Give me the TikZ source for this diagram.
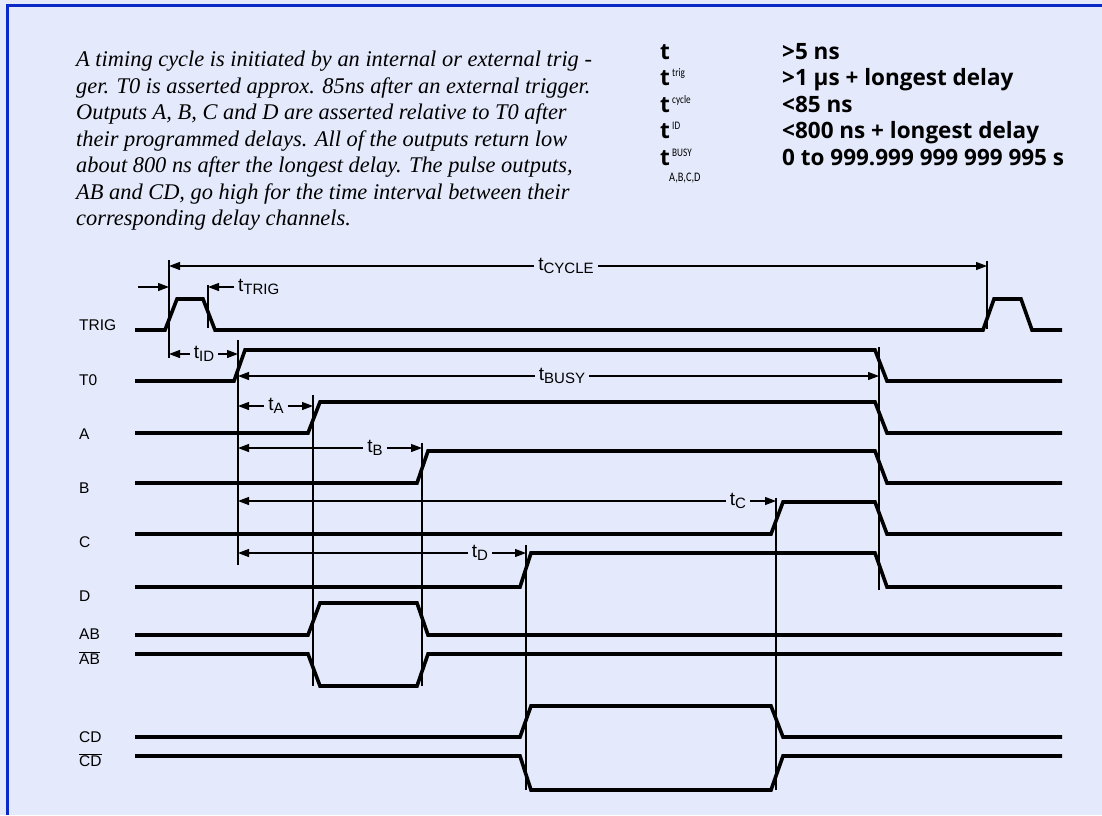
\documentclass[tikz,border=0pt]{standalone}
\usepackage{fontspec}
\setmainfont{Liberation Sans}
\newfontfamily\notefont{Liberation Serif}
\newfontfamily\tabfont{Open Sans}
\newfontfamily\supfont[FakeStretch=0.8]{Carlito}
\usetikzlibrary{
    arrows.meta,
    calc,
    positioning
}
\definecolor{panelbg}{HTML}{E4EAFB}
\definecolor{panelrule}{HTML}{0A2AC8}
\tikzset{
    sig/.style={line width=3.6pt, line join=miter},
    guide/.style={line width=1.2pt},
    dim/.style={line width=1.2pt, -{Triangle[length=11pt,width=8pt]}},
    siglab/.style={anchor=west, inner sep=0pt, font=\fontsize{15.5}{15.5}\selectfont},
    dimlab/.style={inner xsep=4pt, inner ysep=0pt},
    tabval/.style={anchor=base west, inner sep=0pt, font=\tabfont\bfseries\fontsize{22.5}{22.5}\selectfont},
    tabsup/.style={anchor=base west, inner sep=0pt, font=\supfont\fontsize{11.5}{11.5}\selectfont}
}
\newcommand{\tsub}[1]{{\fontsize{19}{19}\selectfont t}\raisebox{-3pt}{\fontsize{15}{15}\selectfont #1}}

\begin{document}
\begin{tikzpicture}[x=1pt,y=-1pt]
    \fill[panelbg] (0,0) rectangle (1102,815);
    \useasboundingbox (0,0) rectangle (1102,815);
    \draw[panelrule, line width=3.5pt] (7.5,815) -- (7.5,5.5) -- (1102,5.5);

    % description
    \node[anchor=north west, inner sep=0pt, align=left,
          font=\notefont\itshape\fontsize{22.4}{26.5}\selectfont] (note) at (76,51)
        {A timing cycle is initiated by an internal or external trig -\\
         ger. T0 is asserted approx. 85ns after an external trigger.\\
         Outputs A, B, C and D are asserted relative to T0 after\\
         their programmed delays. All of the outputs return low\\
         about 800 ns after the longest delay. The pulse outputs,\\
         AB and CD, go high for the time interval between their\\
         corresponding delay channels.};

    % limits table
    \node[tabval] (t1) at (660,59) {t};
    \node[tabval] (t2) at (660,85.5) {t};
    \node[tabval] (t3) at (660,112) {t};
    \node[tabval] (t4) at (660,138.5) {t};
    \node[tabval] (t5) at (660,165) {t};
    \node[tabsup] (s2) at (672,76.5) {trig};
    \node[tabsup] (s3) at (672,103) {cycle};
    \node[tabsup] (s4) at (672,129.5) {ID};
    \node[tabsup] (s5) at (672,156) {BUSY};
    \node[tabsup, font=\supfont\fontsize{13}{13}\selectfont] (s6) at (669,181) {A,B,C,D};
    \node[tabval] (v1) at (782,59) {>5 ns};
    \node[tabval] (v2) at (782,85.5) {>1 µs + longest delay};
    \node[tabval] (v3) at (782,112) {<85 ns};
    \node[tabval] (v4) at (782,138.5) {<800 ns + longest delay};
    \node[tabval] (v5) at (782,165) {0 to 999.999 999 999 995 s};

    % signal names
    \node[siglab] (ntrig) at (79,325) {TRIG};
    \node[siglab] (nt0) at (79,380) {T0};
    \node[siglab] (na) at (79,434) {A};
    \node[siglab] (nb) at (79,488) {B};
    \node[siglab] (nc) at (79,542) {C};
    \node[siglab] (nd) at (79,596) {D};
    \node[siglab] (nab) at (79,634) {AB};
    \node[siglab] (nabn) at (79,658) {$\overline{\mbox{AB}}$};
    \node[siglab] (ncd) at (79,737) {CD};
    \node[siglab] (ncdn) at (79,760) {$\overline{\mbox{CD}}$};

    % waveforms
    \draw[sig] (135,330) -- (165,330) -- (177,299) -- (203,299) -- (215,330) -- (983,330)
        -- (994,299) -- (1021,299) -- (1032,330) -- (1062,330);
    \draw[sig] (135,381) -- (234,381) -- (245,350) -- (875,350) -- (887,381) -- (1062,381);
    \draw[sig] (135,433) -- (308,433) -- (320,402) -- (875,402) -- (887,433) -- (1062,433);
    \draw[sig] (135,483) -- (417,483) -- (428,451) -- (875,451) -- (887,483) -- (1062,483);
    \draw[sig] (135,534) -- (771,534) -- (783,502) -- (875,502) -- (887,534) -- (1062,534);
    \draw[sig] (135,587) -- (520,587) -- (531,553) -- (875,553) -- (887,587) -- (1062,587);
    \draw[sig] (135,635) -- (308,635) -- (320,603) -- (417,603) -- (428,635) -- (1062,635);
    \draw[sig] (135,654) -- (308,654) -- (320,686) -- (417,686) -- (428,654) -- (1062,654);
    \draw[sig] (135,737) -- (520,737) -- (531,706) -- (771,706) -- (783,737) -- (1062,737);
    \draw[sig] (135,756) -- (520,756) -- (531,790) -- (771,790) -- (783,756) -- (1062,756);

    % guide lines
    \coordinate (g1t) at (169,260); \coordinate (g1b) at (169,358);
    \coordinate (g2t) at (208,285); \coordinate (g2b) at (208,328);
    \coordinate (g3t) at (238,340); \coordinate (g3b) at (238,565);
    \coordinate (g4t) at (313,395); \coordinate (g4b) at (313,686);
    \coordinate (g5t) at (422,443); \coordinate (g5b) at (422,686);
    \coordinate (g6t) at (526,545); \coordinate (g6b) at (526,790);
    \coordinate (g7t) at (776,498); \coordinate (g7b) at (776,790);
    \coordinate (g8t) at (879,347); \coordinate (g8b) at (879,590);
    \coordinate (g9t) at (987,261); \coordinate (g9b) at (987,329);
    \foreach \g in {1,...,9}
        \draw[guide] (g\g t) -- (g\g b);

    % timing intervals
    \node[dimlab] (lcyc) at (566,266) {\tsub{CYCLE}};
    \draw[dim] (lcyc.west) -- (lcyc.west -| g1t);
    \draw[dim] (lcyc.east) -- (lcyc.east -| g9t);
    \coordinate (trigin) at (138,287);
    \draw[dim] (trigin) -- (trigin -| g1t);
    \node[dimlab, anchor=west] (ltrig) at (234,287) {\tsub{TRIG}};
    \draw[dim] (ltrig.west) -- (ltrig.west -| g2t);
    \node[dimlab] (lid) at (204,354) {\tsub{ID}};
    \draw[dim] (lid.west) -- (lid.west -| g1t);
    \draw[dim] (lid.east) -- (lid.east -| g3t);
    \node[dimlab] (lbusy) at (562,376) {\tsub{BUSY}};
    \draw[dim] (lbusy.west) -- (lbusy.west -| g3t);
    \draw[dim] (lbusy.east) -- (lbusy.east -| g8t);
    \node[dimlab] (la) at (276,406) {\tsub{A}};
    \draw[dim] (la.west) -- (la.west -| g3t);
    \draw[dim] (la.east) -- (la.east -| g4t);
    \node[dimlab] (lb) at (375,448) {\tsub{B}};
    \draw[dim] (lb.west) -- (lb.west -| g3t);
    \draw[dim] (lb.east) -- (lb.east -| g5t);
    \node[dimlab] (lc) at (738,501) {\tsub{C}};
    \draw[dim] (lc.west) -- (lc.west -| g3t);
    \draw[dim] (lc.east) -- (lc.east -| g7t);
    \node[dimlab] (ld) at (480,553) {\tsub{D}};
    \draw[dim] (ld.west) -- (ld.west -| g3t);
    \draw[dim] (ld.east) -- (ld.east -| g6t);
\end{tikzpicture}
\end{document}
